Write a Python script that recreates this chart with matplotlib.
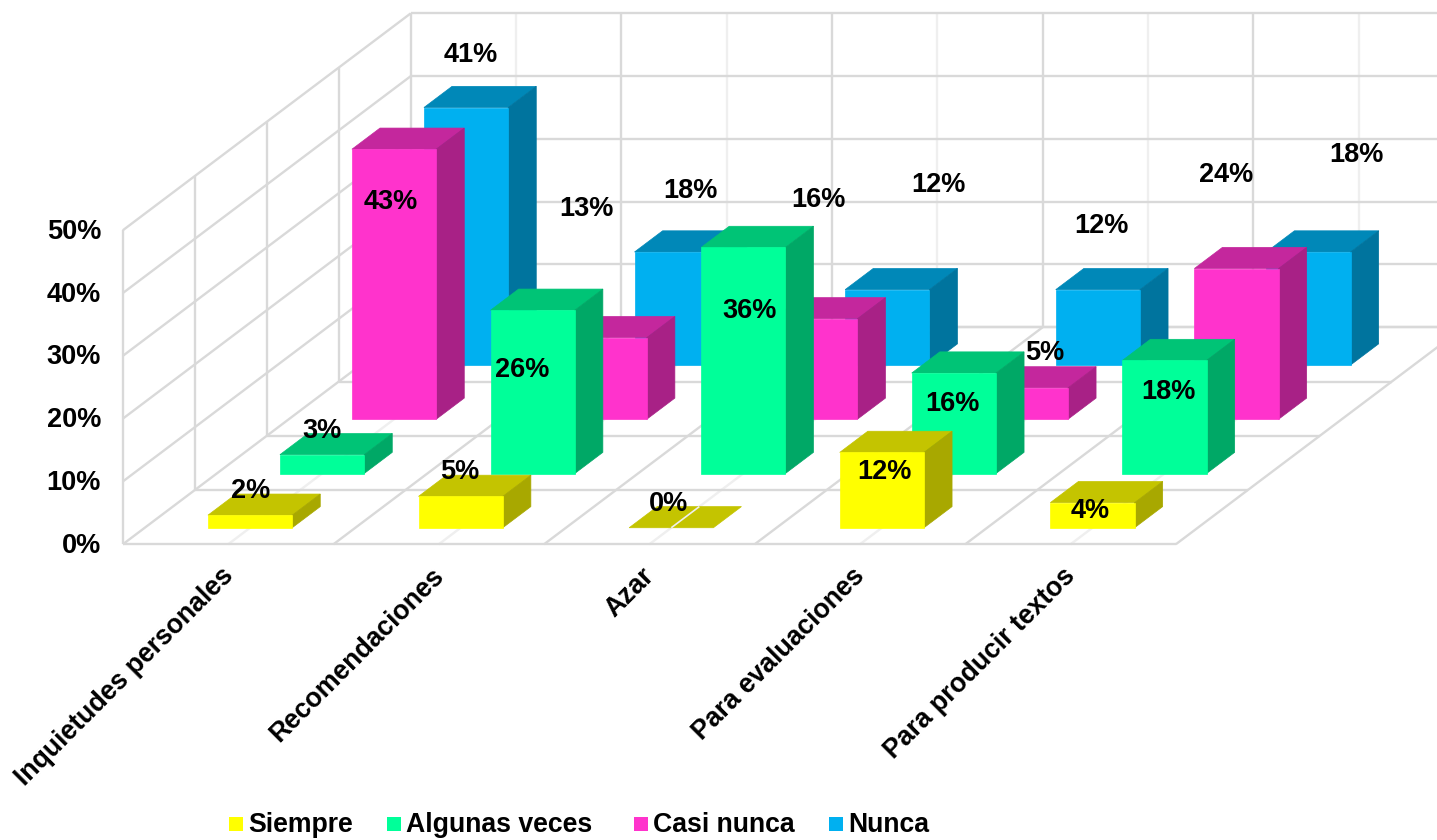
import matplotlib
matplotlib.use("Agg")
import matplotlib.pyplot as plt
from matplotlib.patches import Polygon, Rectangle

plt.rcParams['font.family'] = ['Liberation Sans', 'DejaVu Sans']

categories = ["Inquietudes personales", "Recomendaciones", "Azar", "Para evaluaciones", "Para producir textos"]
series_names = ["Siempre", "Algunas veces", "Casi nunca", "Nunca"]
siempre = [2, 5, 0, 12, 4]
algunas = [3, 26, 36, 16, 18]
casi = [43, 13, 16, 5, 24]
nunca = [41, 18, 12, 12, 18]
series = [siempre, algunas, casi, nunca]
y_ticks = [0, 10, 20, 30, 40, 50]

# front, top, side
colors = [("#FFFF00", "#C4C400", "#A8A800"),
          ("#00FF99", "#00C476", "#00A866"),
          ("#FF33CC", "#C4279D", "#A82186"),
          ("#00B0F0", "#0088B8", "#00749E")]

# labels sit where the original had them (pixel centres)
label_pos = [[(250, 489), (459, 470), (668, 502), (884, 470), (1090, 509)],
             [(321, 429), (522, 368), (749, 309), (952, 402), (1168, 390)],
             [(390, 200), (586, 207), (818, 198), (1044, 351), (1226, 173)],
             [(470, 53), (690, 189), (938, 183), (1101, 224), (1356, 153)]]
legend_x = [229, 387, 634, 829]

# oblique projection of the 3d box
x0, y0 = 122.8, 544.3
cat_w = 210.6
depth_x, depth_y = 72, 54.25
val_h = 6.28
bar_w = 0.4
bar_d = 0.39


def proj(c, s, v):
    return (x0 + c * cat_w + s * depth_x, y0 - s * depth_y - v * val_h)


fig = plt.figure(figsize=(14.37, 8.4), dpi=100)
ax = fig.add_axes([0, 0, 1, 1])
ax.set_xlim(0, 1437)
ax.set_ylim(840, 0)
ax.axis("off")

n_cat = len(categories)
n_ser = len(series)
top = y_ticks[-1]
major = "#D9D9D9"
minor = "#EFEFEF"


def line(p, q, color=major, lw=1.7, z=1):
    ax.plot([p[0], q[0]], [p[1], q[1]], color=color, lw=lw, zorder=z, solid_capstyle="butt")


def face(points, color, z):
    # thin edge of the same colour hides the seams between faces
    ax.add_patch(Polygon(points, fc=color, ec=color, lw=0.5, zorder=z))


# minor lines first
for c in range(n_cat):
    line(proj(c + 0.5, 0, 0), proj(c + 0.5, n_ser, 0), minor, z=1)
    line(proj(c + 0.5, n_ser, 0), proj(c + 0.5, n_ser, top), minor, z=1)

for v in y_ticks:
    line(proj(0, 0, v), proj(0, n_ser, v), z=2)
    line(proj(0, n_ser, v), proj(n_cat, n_ser, v), z=2)
for s in range(n_ser + 1):
    line(proj(0, s, 0), proj(0, s, top), z=2)
    line(proj(0, s, 0), proj(n_cat, s, 0), z=2)
for c in range(1, n_cat + 1):
    line(proj(c, 0, 0), proj(c, n_ser, 0), z=2)
    line(proj(c, n_ser, 0), proj(c, n_ser, top), z=2)

# back row first so the front rows cover it
z = 3
for s in range(n_ser - 1, -1, -1):
    front, roof, side = colors[s]
    for c in range(n_cat):
        v = series[s][c]
        l = c + 0.5 - bar_w / 2
        r = c + 0.5 + bar_w / 2
        d0 = s + 0.5 - bar_d / 2
        d1 = s + 0.5 + bar_d / 2
        face([proj(l, d0, v), proj(r, d0, v), proj(r, d1, v), proj(l, d1, v)], roof, z)
        if v > 0:
            face([proj(r, d0, 0), proj(r, d1, 0), proj(r, d1, v), proj(r, d0, v)], side, z)
            face([proj(l, d0, 0), proj(r, d0, 0), proj(r, d0, v), proj(l, d0, v)], front, z)
        else:
            line(proj(c + 0.5, d0, 0), proj(c + 0.5, d1, 0), minor, lw=1.2, z=z + 0.5)
        z += 1

for s in range(n_ser):
    for c in range(n_cat):
        px, py = label_pos[s][c]
        ax.text(px + 0.5, py + 2, "%d%%" % series[s][c], ha="center", va="center", fontsize=19.5,
                fontweight="bold", color="black", zorder=100)

for v in y_ticks:
    ax.text(101, proj(0, 0, v)[1] + 1.5, "%d%%" % v, ha="right", va="center", fontsize=19.5,
            fontweight="bold", color="black")

for c, name in enumerate(categories):
    ax.text(proj(c + 0.5, 0, 0)[0] - 8, 563, name, rotation=45, rotation_mode="anchor",
            ha="right", va="top", fontsize=19.2, fontweight="bold", color="black")

for i, name in enumerate(series_names):
    ax.add_patch(Rectangle((legend_x[i], 817), 14, 14, fc=colors[i][0], ec="none"))
    ax.text(legend_x[i] + 19, 825, name, ha="left", va="center", fontsize=19.2,
            fontweight="bold", color="black")

fig.savefig("out.png", dpi=100)
